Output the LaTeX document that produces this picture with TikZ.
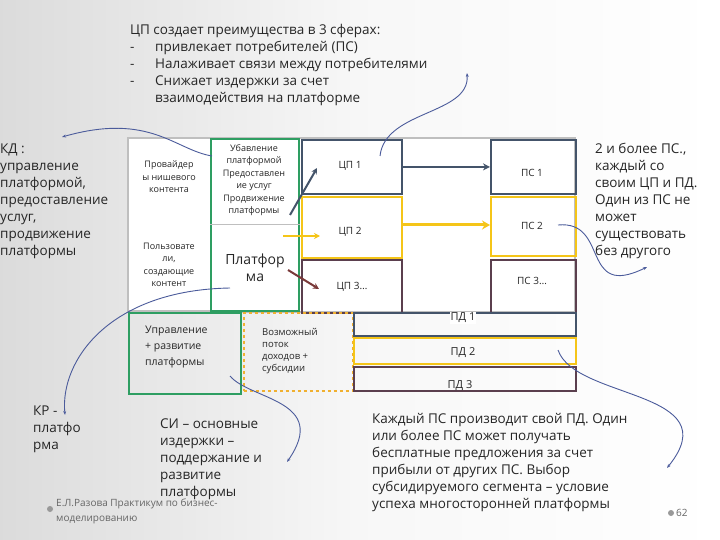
\documentclass[tikz,border=0pt]{standalone}
\usepackage{fontspec}
\setmainfont{Open Sans}
\usetikzlibrary{arrows.meta}
\definecolor{cblue}{HTML}{44546A}
\definecolor{cyel}{HTML}{F5C518}
\definecolor{cbrown}{HTML}{5B3F4E}
\definecolor{cgreen}{HTML}{2E9E62}
\definecolor{cgray}{HTML}{BFBFBF}
\definecolor{ccurve}{HTML}{4B5B9B}
\definecolor{carr}{HTML}{7A3A3A}
\definecolor{corange}{HTML}{F0B030}
\tikzset{
 box/.style={draw,line width=1.8pt,anchor=north west,inner sep=0pt},
 lab/.style={font=\fontsize{10}{12}\selectfont,text=black!85,inner sep=0pt},
 txt/.style={font=\fontsize{13.5}{17}\selectfont,align=left,anchor=north west,inner sep=0pt,text=black!85},
 small/.style={font=\fontsize{9}{12.5}\selectfont,align=center,text=black!85,inner sep=0pt},
 curve/.style={draw=ccurve,line width=0.9pt,-{Stealth[length=4pt,width=3pt]}},
}
\begin{document}
\begin{tikzpicture}[x=1pt,y=-1pt]
\useasboundingbox (0,0) rectangle (720,540);
\shade[left color=black!14,right color=white,middle color=white!97!black] (0,0) rectangle (720,540);
% top grid
\draw[cgray,line width=1.3pt,fill=white] (128,138) rectangle (575,312);
\node[draw=cgray,line width=1.3pt,minimum width=82pt,minimum height=172pt,anchor=north west,inner sep=0pt] (left) at (128,138) {};
\node[draw=cgreen,line width=1.8pt,minimum width=88pt,minimum height=172pt,anchor=north west,inner sep=0pt] (green) at (210,138) {};
\draw[cgray,line width=1pt] (green.west |- 0,225) -- (green.east |- 0,225);
\node[small] (prov) at (169,177) {Провайдер\\ы нишевого\\контента};
\node[small] (pols) at (169,265) {Пользовате\\ли,\\создающие\\контент};
\node[small] (ubav) at (254,180) {Убавление\\платформой\\Предоставлен\\ие услуг\\Продвижение\\платформы};
\node[font=\fontsize{14}{17}\selectfont,align=center,inner sep=0pt,text=black!85] (plat) at (255,268) {Платфор\\ма};
% CP and PS boxes
\node[box,draw=cblue,minimum width=100pt,minimum height=54pt] (cp1) at (301,139) {};
\node[box,draw=cyel,minimum width=100pt,minimum height=61pt] (cp2) at (301,196) {};
\node[box,draw=cbrown,minimum width=100pt,minimum height=53pt] (cp3) at (301,259) {};
\node[box,draw=cblue,minimum width=85pt,minimum height=54pt] (ps1) at (490,139) {};
\node[box,draw=cyel,minimum width=85pt,minimum height=59pt] (ps2) at (490,196) {};
\node[box,draw=cbrown,minimum width=85pt,minimum height=53pt] (ps3) at (490,259) {};
\node[lab] (cp1t) at (350,166) {ЦП 1};
\node[lab] (cp2t) at (350,232) {ЦП 2};
\node[lab] (cp3t) at (352,287) {ЦП 3…};
\node[lab] (ps1t) at (532,173) {ПС 1};
\node[lab] (ps2t) at (532,226) {ПС 2};
\node[lab] (ps3t) at (532,281) {ПС 3…};
% bottom
\node[box,draw=cgreen,minimum width=112pt,minimum height=81pt] (upr) at (128,312) {};
\node[txt,font=\fontsize{10.5}{16}\selectfont] (uprt) at (145,326) {Управление\\+ развитие\\платформы};
\node[draw=corange,line width=1.8pt,dashed,minimum width=109pt,minimum height=78pt,anchor=north west,inner sep=0pt] (voz) at (243,312) {};
\node[txt,font=\fontsize{9.5}{12}\selectfont] (vozt) at (262,328) {Возможный\\поток\\доходов +\\субсидии};
\node[box,draw=cblue,minimum width=222pt,minimum height=23pt] (pd1) at (353,312) {};
\node[box,draw=cyel,minimum width=222pt,minimum height=26pt] (pd2) at (353,337) {};
\node[box,draw=cbrown,minimum width=222pt,minimum height=24pt] (pd3) at (353,366) {};
\node[lab,font=\fontsize{11}{12}\selectfont,fill=white,inner sep=1pt] (pd1t) at (463,318) {ПД 1};
\node[lab,font=\fontsize{11}{12}\selectfont] (pd2t) at (463,353) {ПД 2};
\node[lab,font=\fontsize{11}{12}\selectfont] (pd3t) at (460,386) {ПД 3};
% arrows
\draw[cblue,line width=2pt,-{Stealth[length=7pt,width=7pt]}] (cp1.east) -- (ps1.west);
\draw[cyel,line width=3pt,-{Stealth[length=8pt,width=9pt]}] (cp2.east |- 0,225) -- (ps2.west |- 0,225);
\coordinate (b0) at (290,215); \coordinate (b1) at (317,168);
\draw[cblue,line width=2pt,-{Stealth[length=6pt,width=6pt]}] (b0) -- (b1);
\coordinate (y0) at (283,236); \coordinate (y1) at (320,236);
\draw[cyel,line width=2pt,-{Stealth[length=6pt,width=6pt]}] (y0) -- (y1);
\coordinate (r0) at (288,270); \coordinate (r1) at (319,289);
\draw[carr,line width=2pt,-{Stealth[length=6pt,width=6pt]}] (r0) -- (r1);
% texts
\node[txt] (top) at (130,24) {ЦП создает преимущества в 3 сферах:\\
\makebox[25pt][l]{-}привлекает потребителей (ПС)\\
\makebox[25pt][l]{-}Налаживает связи между потребителями\\
\makebox[25pt][l]{-}Снижает издержки за счет\\
\hspace*{25pt}взаимодействия на платформе};
\node[txt] (kd) at (0,144) {КД :\\управление\\платформой,\\предоставление\\услуг,\\продвижение\\платформы};
\node[txt] (right) at (595,143) {2 и более ПС.,\\каждый со\\своим ЦП и ПД.\\Один из ПС не\\может\\существовать\\без другого};
\node[txt] (kr) at (33,406) {КР -\\платфо\\рма};
\node[txt] (si) at (160,419) {СИ – основные\\издержки –\\поддержание и\\развитие\\платформы};
\node[txt] (each) at (372,413) {Каждый ПС производит свой ПД. Один\\или более ПС может получать\\бесплатные предложения за счет\\прибыли от других ПС. Выбор\\субсидируемого сегмента – условие\\успеха многосторонней платформы};
\fill[black!40] (50,509) circle (3pt);
\node[txt,font=\fontsize{10}{15}\selectfont,text=black!60] (foot) at (56,499) {Е.Л.Разова Практикум по бизнес-\\моделированию};
\fill[black!40] (671,513) circle (3pt);
\node[font=\fontsize{10}{12}\selectfont,text=black!60,inner sep=0pt,anchor=west] (pg) at (676,513) {62};
% curves
\coordinate (c1s) at (212,156); \coordinate (c1e) at (62,137);
\draw[curve] (c1s) .. controls (175,150) and (150,112) .. (c1e);
\coordinate (c2s) at (380,156); \coordinate (c2e) at (467,73);
\draw[curve] (c2s) .. controls (385,110) and (470,115) .. (c2e);
\coordinate (c3s) at (230,288); \coordinate (c3e) at (65,415);
\draw[curve] (c3s) .. controls (110,290) and (60,360) .. (c3e);
\coordinate (c4s) at (230,376); \coordinate (c4e) at (287,462);
\draw[curve] (c4s) .. controls (250,400) and (330,400) .. (c4e);
\coordinate (c5s) at (558,225); \coordinate (c5e) at (647,267);
\draw[curve] (c5s) .. controls (610,220) and (580,300) .. (c5e);
\coordinate (c6s) at (558,350); \coordinate (c6e) at (667,468);
\draw[curve] (c6s) .. controls (575,400) and (730,390) .. (c6e);
\end{tikzpicture}
\end{document}
